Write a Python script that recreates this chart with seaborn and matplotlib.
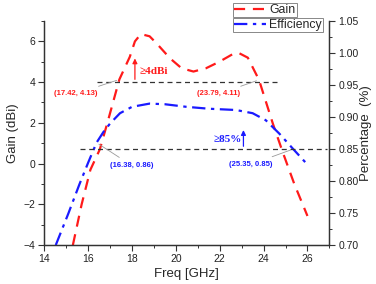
import numpy as np
import pandas as pd
import matplotlib
matplotlib.use('Agg')
import matplotlib.pyplot as plt
from matplotlib.ticker import MultipleLocator
from matplotlib.lines import Line2D
import seaborn as sns

freq_gain = [15.3, 15.7, 16.1, 16.53, 16.9, 17.42, 17.9, 18.13, 18.4, 18.8, 19.12, 19.73,
             20.26, 20.8, 21.37, 21.98, 22.6, 22.85, 23.28, 23.79, 24.42, 24.88, 25.4, 26.0]
gain = [-4.0, -2.0, -0.3, 0.7, 2.1, 4.13, 5.25, 6.0, 6.36, 6.25, 5.9, 5.17,
        4.68, 4.52, 4.68, 5.0, 5.38, 5.44, 5.2, 4.11, 1.97, 0.54, -1.0, -2.57]

freq_eff = [14.52, 15.09, 15.6, 16.0, 16.38, 16.7, 17.0, 17.45, 18.0, 18.8, 19.5, 20.47,
            21.5, 22.74, 23.5, 24.1, 24.72, 25.35, 25.94]
eff = [0.70, 0.749, 0.795, 0.829, 0.86, 0.877, 0.89, 0.906, 0.916, 0.921, 0.92, 0.916,
       0.913, 0.911, 0.906, 0.895, 0.874, 0.85, 0.828]

df_gain = pd.DataFrame({'freq': freq_gain, 'gain': gain})
df_eff = pd.DataFrame({'freq': freq_eff, 'eff': eff})

sns.set_style('ticks')
plt.rcParams['font.family'] = ['Liberation Sans', 'DejaVu Sans']

fig = plt.figure(figsize=(3.76, 2.84), dpi=100)
ax = fig.add_axes([0.118, 0.137, 0.758, 0.789])
ax2 = ax.twinx()

sns.lineplot(data=df_gain, x='freq', y='gain', ax=ax, color='#ff1a1a', lw=1.6,
             dashes=False, linestyle=(0, (5, 3.5)))
sns.lineplot(data=df_eff, x='freq', y='eff', ax=ax2, color='#1a1aff', lw=1.6,
             linestyle=(0, (6, 2.5, 1.5, 2.5)))

ax.set_xlim(14, 27)
ax.set_ylim(-4, 7)
ax2.set_ylim(0.70, 1.05)

# 기준선
ax.plot([16.38, 24.65], [4, 4], color='#333333', lw=0.9, ls=(0, (4, 3)))
ax2.plot([15.62, 26.9], [0.85, 0.85], color='#333333', lw=0.9, ls=(0, (4, 3)))

# 화살표와 텍스트
ax.annotate('', xy=(18.13, 5.3), xytext=(18.13, 4.0),
            arrowprops=dict(arrowstyle='-|>', color='#ff1a1a', lw=0.9, mutation_scale=7))
ax.text(18.36, 4.5, '≥4dBi', color='#ff1a1a', fontsize=8, fontweight='bold',
        family=['Liberation Serif', 'DejaVu Serif'], ha='left', va='center')
ax2.annotate('', xy=(23.08, 0.884), xytext=(23.08, 0.85),
             arrowprops=dict(arrowstyle='-|>', color='#1a1aff', lw=0.9, mutation_scale=7))
ax2.text(23.0, 0.865, '≥85%', color='#1a1aff', fontsize=8, fontweight='bold',
         family=['Liberation Serif', 'DejaVu Serif'], ha='right', va='center')

# 좌표 라벨
grey = dict(arrowstyle='-', color='#999999', lw=0.6)
ax.annotate('(17.42, 4.13)', xy=(17.42, 4.13), xytext=(15.41, 3.42), color='#ff1a1a',
            fontsize=5.5, fontweight='bold', ha='center', va='center', arrowprops=grey,
            annotation_clip=False)
ax.annotate('(23.79, 4.11)', xy=(23.79, 4.11), xytext=(21.95, 3.42), color='#ff1a1a',
            fontsize=5.5, fontweight='bold', ha='center', va='center', arrowprops=grey)
ax2.annotate('(16.38, 0.86)', xy=(16.38, 0.86), xytext=(18.0, 0.824), color='#1a1aff',
             fontsize=5.5, fontweight='bold', ha='center', va='center', arrowprops=grey)
ax2.annotate('(25.35, 0.85)', xy=(25.35, 0.85), xytext=(23.42, 0.826), color='#1a1aff',
             fontsize=5.5, fontweight='bold', ha='center', va='center', arrowprops=grey)

# 축 설정
ax.xaxis.set_major_locator(MultipleLocator(2))
ax.xaxis.set_minor_locator(MultipleLocator(1))
ax.yaxis.set_major_locator(MultipleLocator(2))
ax.yaxis.set_minor_locator(MultipleLocator(1))
ax2.yaxis.set_major_locator(MultipleLocator(0.05))
ax2.yaxis.set_minor_locator(MultipleLocator(0.025))
ax2.yaxis.set_major_formatter(matplotlib.ticker.FormatStrFormatter('%.2f'))

for a in (ax, ax2):
    a.spines['top'].set_visible(False)
    for s in a.spines.values():
        s.set_color('#333333')
        s.set_linewidth(0.9)
    a.tick_params(which='major', length=4, width=0.8, labelsize=7.5, colors='#333333',
                  labelcolor='#222222', pad=2.5)
    a.tick_params(which='minor', length=2, width=0.7, colors='#333333')

ax.set_xlabel('Freq [GHz]', fontsize=9.5, labelpad=3)
ax.set_ylabel('Gain (dBi)', fontsize=9.5, labelpad=3)
ax2.set_ylabel('Percentage  (%)', fontsize=9.5, labelpad=1)

# 범례 (각각 따로 상자)
h1 = Line2D([], [], color='#ff1a1a', lw=1.6, ls=(0, (5, 3.5)))
h2 = Line2D([], [], color='#1a1aff', lw=1.6, ls=(0, (6, 2.5, 1.5, 2.5)))
leg_kw = dict(loc='upper left', fontsize=8.8, frameon=True, fancybox=False,
              edgecolor='#888888', framealpha=1, borderpad=0.1, handlelength=2.6,
              handletextpad=0.25, borderaxespad=0, bbox_transform=fig.transFigure)
l1 = ax.legend([h1], ['Gain'], bbox_to_anchor=(0.62, 0.99), **leg_kw)
l1.get_frame().set_linewidth(0.7)
l2 = ax2.legend([h2], ['Efficiency'], bbox_to_anchor=(0.62, 0.937), **leg_kw)
l2.get_frame().set_linewidth(0.7)

fig.savefig('out.png', dpi=100)
